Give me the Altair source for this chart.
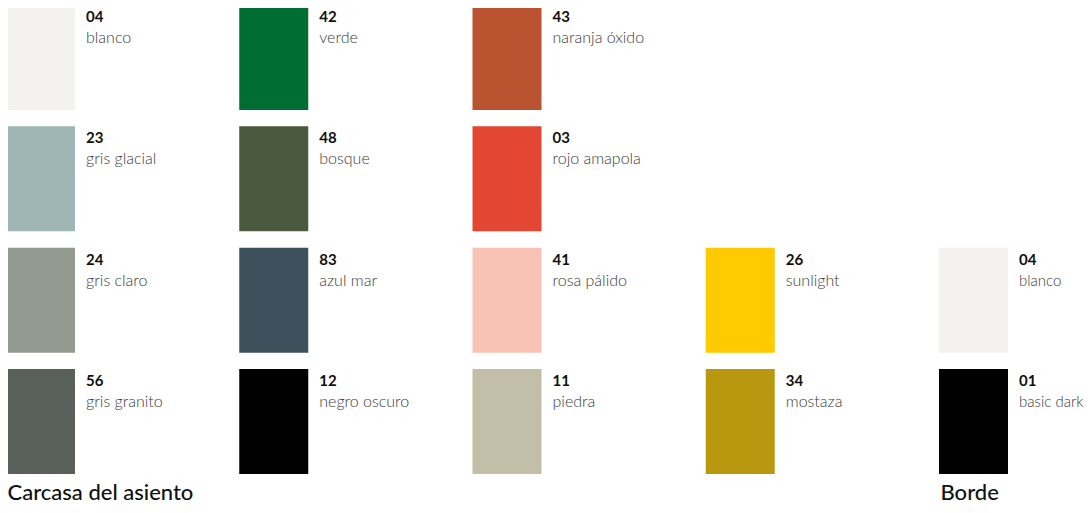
import altair as alt
import pandas as pd

# Swatch data
codes = ["04", "23", "24", "56", "42", "48", "83", "12", "43", "03", "41", "11", "26", "34", "04", "01"]
names = ["blanco", "gris glacial", "gris claro", "gris granito",
         "verde", "bosque", "azul mar", "negro oscuro",
         "naranja óxido", "rojo amapola", "rosa pálido", "piedra",
         "sunlight", "mostaza",
         "blanco", "basic dark"]
colors = ["#F3F2EE", "#A0B6B5", "#939A90", "#5A605B",
          "#006D32", "#4A593D", "#3E505C", "#000000",
          "#BA532F", "#E34632", "#F8C3B5", "#C3BEA8",
          "#FFCB00", "#B8980E",
          "#F3F2EE", "#000000"]
cols = [0, 0, 0, 0, 1, 1, 1, 1, 2, 2, 2, 2, 3, 3, 4, 4]
rows = [0, 1, 2, 3, 0, 1, 2, 3, 0, 1, 2, 3, 2, 3, 2, 3]

section_titles = ["Carcasa del asiento", "Borde"]
section_cols = [0, 4]
section_rows = [3, 3]

df = pd.DataFrame({"code": codes, "name": names, "color": colors, "col": cols, "row": rows})
sections = pd.DataFrame({"title": section_titles, "col": section_cols, "row": section_rows})

FONT = "Lato"

x = alt.X("col:Q", scale=alt.Scale(domain=[0, 4], range=[32.5, 965.5]), axis=None)
y = alt.Y("row:Q", scale=alt.Scale(domain=[0, 3], range=[49.5, 413.5]), axis=None)

base = alt.Chart(df)

rects = base.mark_rect(width=69, height=105).encode(
    x=x, y=y, color=alt.Color("color:N", scale=None, legend=None)
)

code_text = base.mark_text(
    align="left", baseline="alphabetic", dx=45.5, dy=-35.5,
    font=FONT, fontSize=15, fontWeight="bold", color="#111111"
).encode(x=x, y=y, text="code:N")

name_text = base.mark_text(
    align="left", baseline="alphabetic", dx=45.5, dy=-14.5,
    font=FONT, fontWeight=300, color="#3a3a3a"
).encode(
    x=x, y=y, text="name:N",
    size=alt.condition("datum.col == 4", alt.value(15), alt.value(16)),
)

title_text = alt.Chart(sections).mark_text(
    align="left", baseline="alphabetic", dx=-33, dy=78.5,
    font=FONT, fontSize=22, fontWeight=500, color="#111111"
).encode(x=x, y=y, text="title:N")

chart = alt.layer(rects, code_text, name_text, title_text).properties(
    width=1075, height=497,
    autosize=alt.AutoSizeParams(type="none"),
    padding=0,
    background="white",
).configure_view(strokeWidth=0, stroke="transparent")

chart.save("out.html", embed_options={"renderer": "svg", "actions": False})
